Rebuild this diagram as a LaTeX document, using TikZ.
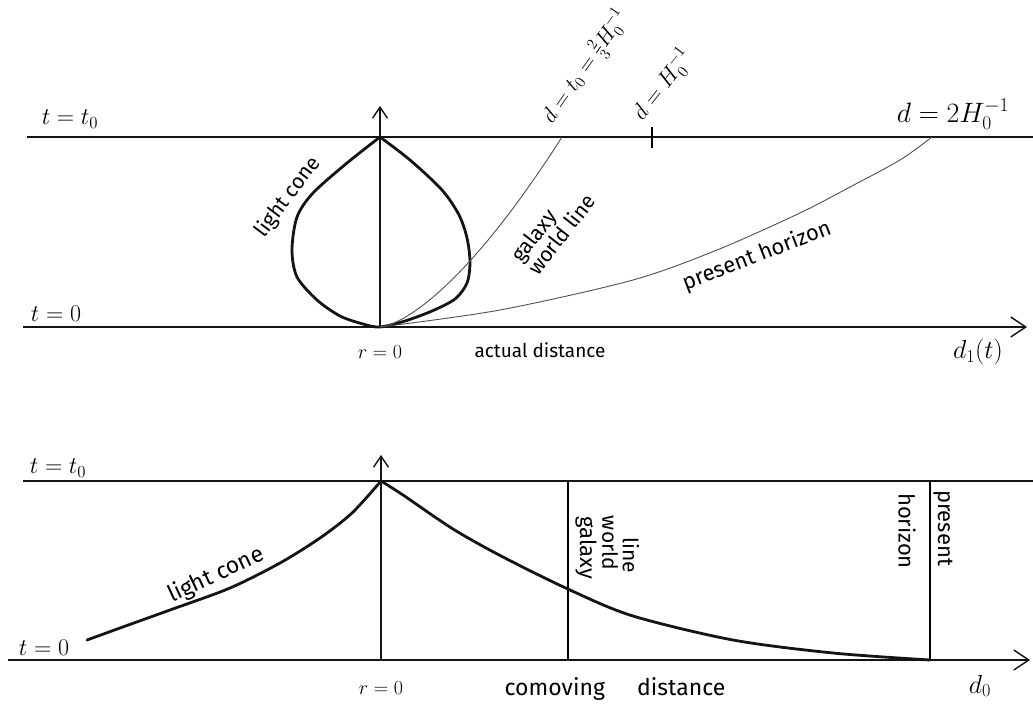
\RequirePackage{fix-cm}
\documentclass[tikz,border=0pt]{standalone}
\usepackage{amsmath,fontspec}
\setmainfont{Fira Sans}
\usetikzlibrary{arrows.meta}
\definecolor{figK}{RGB}{20,20,20}
\definecolor{figG}{RGB}{80,80,80}

\begin{document}
\begin{tikzpicture}[x=1pt,y=-1pt,
  lbl/.style={font=\fontsize{#1}{#1}\selectfont,inner sep=1pt},
  lbl/.default=19,
  axis/.style={line width=1.6pt,figK},
  cone/.style={line width=2.8pt,figK,line cap=round,line join=round},
  wline/.style={line width=0.9pt,figG},
  bigtip/.style={-{Straight Barb[length=15pt,width=20pt,line width=1.4pt]}},
  uptip/.style={-{Straight Barb[length=11pt,width=15pt,line width=1.4pt]}}]
\useasboundingbox (0,0) rectangle (1033,704);
% upper panel: actual distance
\coordinate (n0) at (27,137);
\coordinate (nR) at (1033,137);
\coordinate (a0) at (23,327);
\coordinate (aR) at (1027,327);
\coordinate (aO) at (380,327);
\coordinate (aT) at (380,106);
\coordinate (tk1) at (652,127);
\coordinate (tk2) at (652,148);
\draw[axis] (n0) -- (nR);
\draw[axis,bigtip] (a0) -- (aR);
\draw[axis,uptip] (aO) -- (aT);
\draw[line width=2.2pt] (tk1) -- (tk2);
% past light cone (teardrop)
\draw[cone] plot[smooth] coordinates {(380,137) (347,163) (313,193) (297,217)
  (292,250) (297,277) (317,300) (340,316) (363,324) (380,327) (405,321) (432,311)
  (455,299) (467,283) (470,262) (467,238) (459,215) (442,190) (410,160) (380,137)};
% world lines
\draw[wline] plot[domain=0:1,samples=40] ({380+182*\x*\x},{327-190*\x*\x*\x});
\draw[wline] plot[smooth] coordinates {(380,327) (500,310) (633,280) (717,250)
  (800,213) (850,187) (900,160) (932,137)};
\node[lbl=24] (tnow1) at (70,119) {$t=t_0$};
\node[lbl=24] (tbig1) at (56,314) {$t=0$};
\node[lbl=20] (r1) at (380,352) {$r=0$};
\node[lbl=19] (ad) at (540,350) {actual distance};
\node[lbl=26] (d1) at (978,352) {$d_1(t)$};
\node[lbl=21,rotate=53] (lc1) at (288,197) {light cone};
\node[lbl=21,rotate=52,align=left] (gw1) at (553,228) {galaxy\\world line};
\node[lbl=22,rotate=21] (ph1) at (757,256) {present horizon};
\node[lbl=22,rotate=55,anchor=south west] (dg) at (559,131) {$d=t_0=\tfrac{2}{3}H_0^{-1}$};
\node[lbl=23,rotate=52,anchor=south west] (dh) at (648,127) {$d=H_0^{-1}$};
\node[lbl=28] (dp) at (953,114) {$d=2H_0^{-1}$};

% lower panel: comoving distance
\coordinate (m0) at (23,481);
\coordinate (mR) at (1033,481);
\coordinate (b0) at (8,660);
\coordinate (bR) at (1030,660);
\coordinate (bO) at (381,660);
\coordinate (bT) at (381,455);
\coordinate (gB) at (568,660);
\coordinate (gT) at (568,481);
\coordinate (hB) at (930,660);
\coordinate (hT) at (930,481);
\draw[axis] (m0) -- (mR);
\draw[axis,bigtip] (b0) -- (bR);
\draw[axis,uptip] (bO) -- (bT);
\draw[line width=1.2pt] (gB) -- (gT);
\draw[line width=1.2pt] (hB) -- (hT);
\draw[cone] plot[smooth] coordinates {(381,481) (352,513) (320,538) (280,563)
  (230,588) (170,610) (120,628) (87,640)};
\draw[cone] plot[smooth] coordinates {(381,481) (403,495) (453,529) (503,557)
  (570,590) (633,616) (733,640) (833,653) (930,660)};
\node[lbl=24] (tnow2) at (58,468) {$t=t_0$};
\node[lbl=24] (tbig2) at (44,648) {$t=0$};
\node[lbl=20] (r2) at (381,688) {$r=0$};
\node[lbl=23] (cd) at (615,689) {comoving\hspace{1.4em}distance};
\node[lbl=23,rotate=25] (lc2) at (216,575) {light cone};
\node[lbl=26] (d0) at (980,686) {$d_0$};
\node[lbl=22,rotate=-90] (gw2a) at (586,548) {galaxy};
\node[lbl=21,rotate=-90] (gw2b) at (610,543) {world};
\node[lbl=21,rotate=-90] (gw2c) at (631,555) {line};
\node[lbl=22,rotate=-90] (ph2a) at (943,528) {present};
\node[lbl=22,rotate=-90] (ph2b) at (907,531) {horizon};
\end{tikzpicture}
\end{document}
